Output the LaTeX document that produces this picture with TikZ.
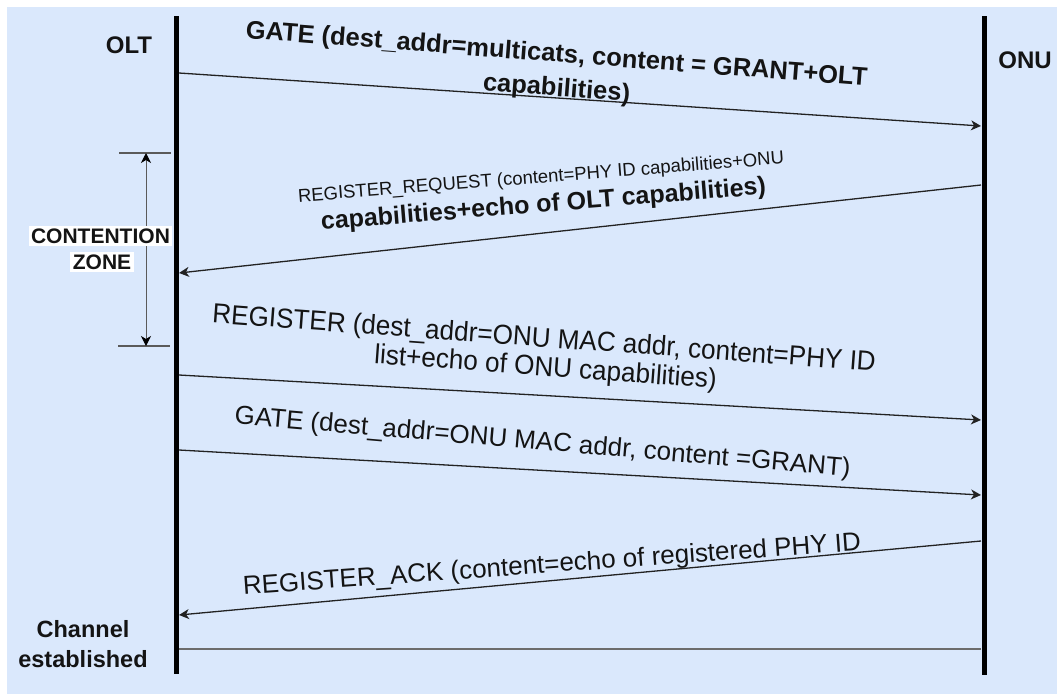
\documentclass[tikz,border=0pt]{standalone}
\usepackage{fontspec}
\setmainfont{Liberation Sans}
\newfontfamily\narrowsans[FakeStretch=0.95]{Liberation Sans}
\usetikzlibrary{arrows.meta}

\definecolor{panel}{HTML}{DAE8FC}
\definecolor{ink}{HTML}{141414}
\definecolor{wire}{HTML}{222222}
\definecolor{zonegray}{HTML}{5A5A5A}

\newcommand\fsz[1]{\fontsize{#1}{#1}\selectfont}

\tikzset{
  lifeline/.style={line width=5pt, draw=black},
  msg/.style={draw=wire, line width=1.3pt,
    -{Stealth[length=10pt, width=10pt, inset=3pt]}},
  lbl/.style={inner sep=0pt, anchor=base, text=ink},
  zonetick/.style={draw=zonegray, line width=2pt},
  zonebox/.style={fill=white, inner xsep=2.5pt, inner ysep=2.5pt, anchor=base, text=ink,
    font=\fsz{21}\bfseries},
}

\begin{document}
\begin{tikzpicture}[x=1pt, y=-1pt]
  % canvas
  \useasboundingbox (0,0) rectangle (1057,694);
  \fill[white] (0,0) rectangle (1057,694);
  \fill[panel] (7,7) rectangle (1057,694);

  % lifelines
  \coordinate (olt-top) at (176.5,16);
  \coordinate (olt-bot) at (176.5,674);
  \coordinate (onu-top) at (984,16);
  \coordinate (onu-bot) at (984,675);
  \draw[lifeline] (olt-top) -- (olt-bot);
  \draw[lifeline] (onu-top) -- (onu-bot);

  \node[lbl, font=\fsz{24}\bfseries] (olt) at (129,53) {OLT};
  \node[lbl, font=\fsz{24}\bfseries] (onu) at (1025,68) {ONU};

  % message end points on the lifelines
  \coordinate (a1) at (179,73);   \coordinate (b1) at (981,126);
  \coordinate (b2) at (981,185);  \coordinate (a2) at (179,273);
  \coordinate (a3) at (179,375);  \coordinate (b3) at (981,420);
  \coordinate (a4) at (179,450);  \coordinate (b4) at (981,495);
  \coordinate (b5) at (981,541);  \coordinate (a5) at (179,615);
  \coordinate (a6) at (179,649);  \coordinate (b6) at (981,649);

  \draw[msg] (a1) -- (b1);
  \draw[msg] (b2) -- (a2);
  \draw[msg] (a3) -- (b3);
  \draw[msg] (a4) -- (b4);
  \draw[msg] (b5) -- (a5);
  \draw[draw=gray!85!black, line width=2pt] (a6) -- (b6);

  % message labels
  \node[lbl, rotate=-4.4, font=\fsz{25.5}\bfseries] (m1a) at (556,62)
    {GATE (dest\_addr=multicats, content = GRANT+OLT};
  \node[lbl, rotate=-4.4, font=\fsz{25.5}\bfseries] (m1b) at (556,96)
    {capabilities)};

  \node[lbl, rotate=4.5, font=\fsz{18.5}] (m2a) at (541.5,183)
    {REGISTER\_REQUEST (content=PHY ID capabilities+ONU};
  \node[lbl, rotate=4.6, font=\fsz{25}\bfseries] (m2b) at (544,212)
    {capabilities+echo of OLT capabilities)};

  \node[lbl, rotate=-4.2, font=\fsz{27.5}\narrowsans] (m3a) at (543.5,347)
    {REGISTER (dest\_addr=ONU MAC addr, content=PHY ID};
  \node[lbl, rotate=-4.2, font=\fsz{27.5}\narrowsans] (m3b) at (545,376)
    {list+echo of ONU capabilities)};

  \node[lbl, rotate=-4.9, font=\fsz{26}] (m4) at (542,450)
    {GATE (dest\_addr=ONU MAC addr, content =GRANT)};

  \node[lbl, rotate=4.1, font=\fsz{26}] (m5) at (552.5,572.5)
    {REGISTER\_ACK (content=echo of registered PHY ID};

  % contention zone marker
  \coordinate (czt-l) at (119,153);  \coordinate (czt-r) at (171,153);
  \coordinate (czb-l) at (118,346);  \coordinate (czb-r) at (170,346);
  \coordinate (cz-top) at (146,153); \coordinate (cz-bot) at (146,346);
  \draw[zonetick] (czt-l) -- (czt-r);
  \draw[zonetick] (czb-l) -- (czb-r);
  \draw[draw=zonegray, line width=1pt,
    {Stealth[length=10pt, width=10pt, inset=3pt, color=black]}-{Stealth[length=10pt, width=10pt, inset=3pt, color=black]}]
    (cz-top) -- (cz-bot);
  \node[zonebox] (cz1) at (100.5,243) {CONTENTION};
  \node[zonebox] (cz2) at (102,269) {ZONE};

  % final state
  \node[lbl, font=\fsz{23.5}\bfseries] (ch1) at (83,637) {Channel};
  \node[lbl, font=\fsz{23.5}\bfseries] (ch2) at (83,667) {established};
\end{tikzpicture}
\end{document}
